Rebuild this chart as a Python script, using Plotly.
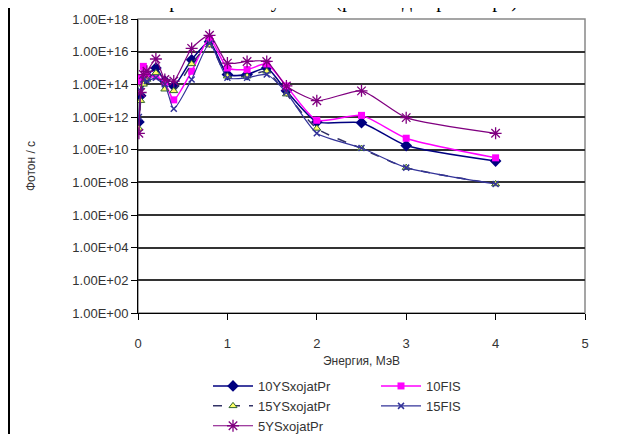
import plotly.graph_objects as go

energy = [0.01, 0.03, 0.06, 0.1, 0.2, 0.3, 0.4, 0.6, 0.8, 1.0, 1.22, 1.44, 1.66, 2.0, 2.5, 3.0, 4.0]

log_10YSxojatPr = [11.7, 13.3, 14.2, 14.5, 15.0, 14.2, 13.9, 15.5, 16.6, 14.6, 14.6, 15.0, 13.6, 11.7, 11.65, 10.25, 9.3]
log_10FIS = [14.2, 14.4, 15.1, 14.5, 14.5, 14.1, 13.05, 14.8, 16.8, 15.0, 14.9, 15.25, 13.9, 11.8, 12.1, 10.7, 9.5]
log_15YSxojatPr = [11.3, 13.0, 14.0, 14.3, 14.7, 13.7, 13.6, 15.25, 16.4, 14.5, 14.5, 14.8, 13.4, 11.3, 10.07, 8.9, 7.9]
log_15FIS = [12.0, 13.6, 14.3, 14.2, 14.4, 14.0, 12.5, 14.3, 16.5, 14.4, 14.4, 14.6, 13.5, 11.0, 10.1, 8.9, 7.9]
log_5YSxojatPr = [11.0, 13.5, 14.6, 14.8, 15.55, 14.3, 14.2, 16.2, 17.0, 15.3, 15.4, 15.4, 13.9, 13.0, 13.6, 11.96, 11.0]

y_tick_vals = [10 ** k for k in range(0, 19, 2)]
y_tick_text = ["1.00E+%02d" % k for k in range(0, 19, 2)]
x_ticks = [0, 1, 2, 3, 4, 5]

series = [
    ("10YSxojatPr", log_10YSxojatPr, dict(color="#000080", width=1.5), dict(symbol="diamond", size=9, color="#000080")),
    ("10FIS", log_10FIS, dict(color="#FF00FF", width=1.5), dict(symbol="square", size=7, color="#FF00FF")),
    ("15YSxojatPr", log_15YSxojatPr, dict(color="#333366", width=1.5, dash="dash"),
     dict(symbol="triangle-up", size=7, color="#FFFF66", line=dict(color="#336633", width=1))),
    ("15FIS", log_15FIS, dict(color="#333399", width=1.2), dict(symbol="x-thin-open", size=6, color="#333399", line=dict(color="#333399", width=1.5))),
    ("5YSxojatPr", log_5YSxojatPr, dict(color="#800080", width=1.2), dict(symbol="asterisk-open", size=10, color="#800080", line=dict(color="#800080", width=1.3))),
]

fig = go.Figure()
for name, logs, line, marker in series:
    fig.add_trace(go.Scatter(
        x=energy, y=[10 ** v for v in logs], name=name, mode="lines+markers",
        line=dict(shape="spline", smoothing=0.6, **line), marker=marker,
    ))

font_main = dict(family="Liberation Sans, Arial, sans-serif", size=12, color="#333333")

# page body has an 8px margin; figure spans x 8..629, y 8..434
W, H = 621, 426
L, R, T, B = 130, 44, 11, 121
PW, PH = W - L - R, H - T - B

fig.update_layout(
    width=W, height=H,
    margin=dict(l=L, r=R, t=T, b=B, autoexpand=False),
    paper_bgcolor="white", plot_bgcolor="white",
    font=font_main,
    showlegend=True,
    legend=dict(orientation="h", x=(208 - 8 - L) / PW, xanchor="left", y=-(B + 7) / PH, yanchor="bottom",
                entrywidth=113, entrywidthmode="pixels", tracegroupgap=0,
                font=dict(family="Liberation Sans, Arial, sans-serif", size=13, color="#333333"),
                itemwidth=40, bgcolor="rgba(0,0,0,0)"),
    xaxis=dict(range=[0, 5], tickvals=x_ticks, ticks="outside", ticklen=6, tickcolor="#000000",
               ticklabelstandoff=12, automargin=False,
               showgrid=False, zeroline=False, showline=True, linecolor="#000000", linewidth=1,
               tickfont=dict(size=13, color="#333333"),
               title=dict(text="Энергия, МэВ", standoff=7, font=dict(size=12, color="#333333"))),
    yaxis=dict(type="log", range=[0, 18], tickvals=y_tick_vals, ticktext=y_tick_text,
               ticks="outside", ticklen=6, tickcolor="#000000", automargin=False,
               showgrid=True, gridcolor="#333333", gridwidth=1.5, zeroline=False,
               showline=True, linecolor="#000000", linewidth=1,
               tickfont=dict(size=13, color="#333333"),
               title=dict(text="Фотон / с", standoff=34, font=dict(size=12, color="#333333"))),
    shapes=[
        dict(type="rect", xref="paper", yref="paper", x0=0, x1=1, y0=0, y1=1,
             line=dict(color="#888888", width=1.5), layer="below"),
        dict(type="line", xref="paper", yref="paper", x0=(1 - L) / PW, x1=(1 - L) / PW,
             y0=-B / PH, y1=1 + T / PH, line=dict(color="#000000", width=2)),
    ],
    annotations=[
        dict(text="Спектр гамма-излучения (расчёт для реактора)", xref="paper", yref="paper",
             x=(318 - 8 - L) / PW, y=1 + 5 / PH, xanchor="center", yanchor="bottom", showarrow=False,
             font=dict(family="Liberation Serif, Times New Roman, serif", size=20, color="#000000")),
    ],
)

fig.write_html("out.html")
